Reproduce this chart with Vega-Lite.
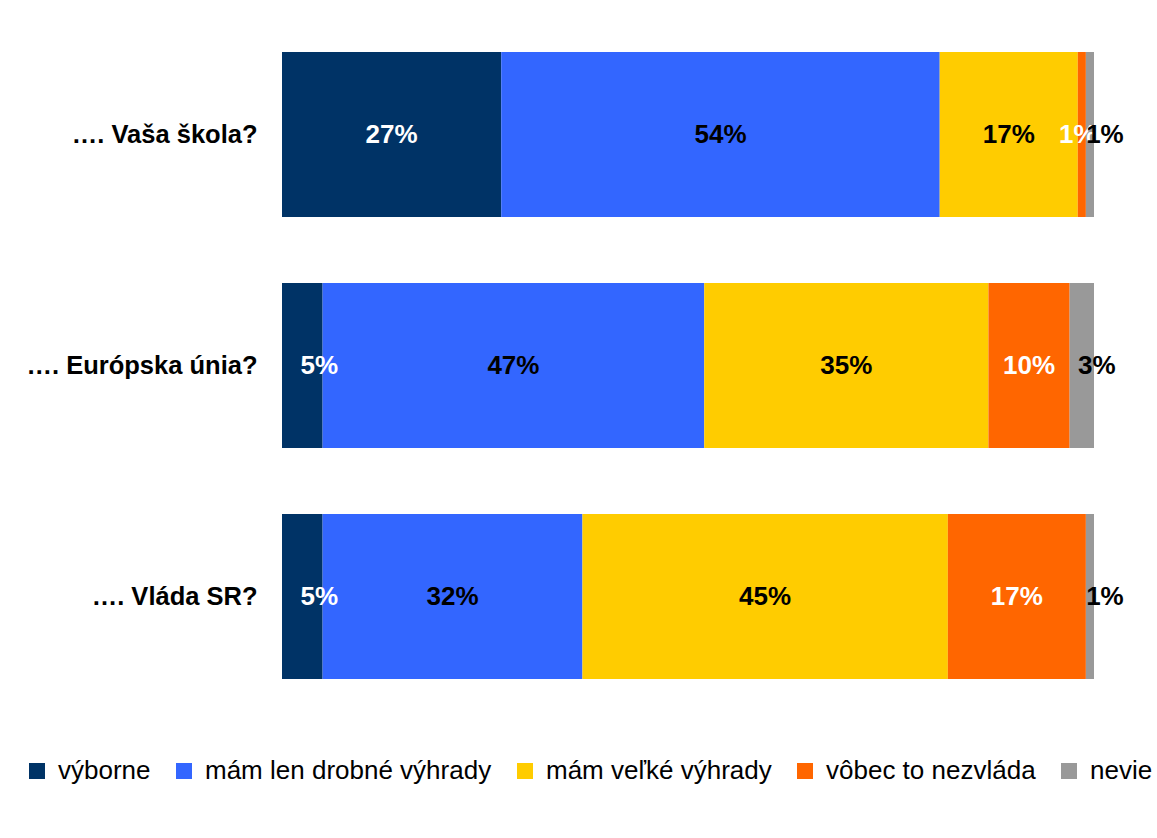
{
  "$schema": "https://vega.github.io/schema/vega-lite/v6.json",
  "width": 812,
  "height": 693,
  "autosize": {"type": "none"},
  "padding": {"left": 282, "top": 19, "right": 63, "bottom": 126},
  "background": "white",
  "config": {"view": {"stroke": null}, "font": "Liberation Sans"},
  "data": {
    "values": [
      {"q": "…. Vaša škola?", "c": "výborne", "v": 27, "lab": "27%", "o": 1},
      {"q": "…. Vaša škola?", "c": "mám len drobné výhrady", "v": 54, "lab": "54%", "o": 2},
      {"q": "…. Vaša škola?", "c": "mám veľké výhrady", "v": 17, "lab": "17%", "o": 3},
      {"q": "…. Vaša škola?", "c": "vôbec to nezvláda", "v": 1, "lab": "1%", "o": 4},
      {"q": "…. Vaša škola?", "c": "nevie", "v": 1, "lab": "1%", "o": 5},
      {"q": "…. Európska únia?", "c": "výborne", "v": 5, "lab": "5%", "o": 1},
      {"q": "…. Európska únia?", "c": "mám len drobné výhrady", "v": 47, "lab": "47%", "o": 2},
      {"q": "…. Európska únia?", "c": "mám veľké výhrady", "v": 35, "lab": "35%", "o": 3},
      {"q": "…. Európska únia?", "c": "vôbec to nezvláda", "v": 10, "lab": "10%", "o": 4},
      {"q": "…. Európska únia?", "c": "nevie", "v": 3, "lab": "3%", "o": 5},
      {"q": "…. Vláda SR?", "c": "výborne", "v": 5, "lab": "5%", "o": 1},
      {"q": "…. Vláda SR?", "c": "mám len drobné výhrady", "v": 32, "lab": "32%", "o": 2},
      {"q": "…. Vláda SR?", "c": "mám veľké výhrady", "v": 45, "lab": "45%", "o": 3},
      {"q": "…. Vláda SR?", "c": "vôbec to nezvláda", "v": 17, "lab": "17%", "o": 4},
      {"q": "…. Vláda SR?", "c": "nevie", "v": 1, "lab": "1%", "o": 5}
    ]
  },
  "encoding": {
    "y": {
      "field": "q",
      "type": "nominal",
      "sort": ["…. Vaša škola?", "…. Európska únia?", "…. Vláda SR?"],
      "scale": {"paddingInner": 0.286, "paddingOuter": 0.143},
      "axis": {
        "title": null,
        "ticks": false,
        "domain": false,
        "labelFontSize": 25.5,
        "labelFontWeight": "bold",
        "labelColor": "black",
        "labelPadding": 25,
        "labelLimit": 400,
        "labelFont": "Liberation Sans"
      }
    },
    "x": {
      "field": "v",
      "type": "quantitative",
      "stack": "zero",
      "scale": {"domain": [0, 100]},
      "axis": null
    },
    "order": {"field": "o", "type": "quantitative"}
  },
  "layer": [
    {
      "mark": {"type": "bar"},
      "encoding": {
        "color": {
          "field": "c",
          "type": "nominal",
          "scale": {
            "domain": ["výborne", "mám len drobné výhrady", "mám veľké výhrady", "vôbec to nezvláda", "nevie"],
            "range": ["#003366", "#3366FF", "#FFCC00", "#FF6600", "#999999"]
          },
          "legend": {
            "title": null,
            "orient": "none",
            "direction": "horizontal",
            "columns": 5,
            "legendX": -258,
            "legendY": 739,
            "symbolType": "square",
            "symbolSize": 256,
            "symbolStrokeWidth": 0,
            "symbolOpacity": 1,
            "labelFontSize": 26,
            "labelColor": "black",
            "labelOffset": 8,
            "columnPadding": 20,
            "labelLimit": 400
          }
        }
      }
    },
    {
      "mark": {"type": "text", "fontSize": 26, "fontWeight": "bold", "baseline": "middle", "align": "center"},
      "encoding": {
        "x": {"field": "v", "type": "quantitative", "stack": "zero", "bandPosition": 0.5},
        "text": {"field": "lab", "type": "nominal"},
        "opacity": {
          "condition": {"test": "datum.c !== 'nevie' && !(datum.c === 'vôbec to nezvláda' && datum.q === '…. Vaša škola?') && !(datum.c === 'výborne' && datum.q !== '…. Vaša škola?')", "value": 1},
          "value": 0
        },
        "color": {
          "condition": {"test": "datum.c === 'výborne' || datum.c === 'vôbec to nezvláda'", "value": "white"},
          "value": "black"
        }
      }
    },
    {
      "mark": {"type": "text", "fontSize": 26, "fontWeight": "bold", "baseline": "middle", "align": "center", "dx": 17, "color": "white"},
      "encoding": {
        "x": {"field": "v", "type": "quantitative", "stack": "zero", "bandPosition": 0.5},
        "text": {"field": "lab", "type": "nominal"},
        "opacity": {
          "condition": {"test": "datum.c === 'výborne' && datum.q !== '…. Vaša škola?'", "value": 1},
          "value": 0
        }
      }
    },
    {
      "mark": {"type": "text", "fontSize": 26, "fontWeight": "bold", "baseline": "middle", "align": "center", "dx": -4, "color": "white"},
      "encoding": {
        "x": {"field": "v", "type": "quantitative", "stack": "zero", "bandPosition": 0.5},
        "text": {"field": "lab", "type": "nominal"},
        "opacity": {
          "condition": {"test": "datum.c === 'vôbec to nezvláda' && datum.q === '…. Vaša škola?'", "value": 1},
          "value": 0
        }
      }
    },
    {
      "mark": {"type": "text", "fontSize": 26, "fontWeight": "bold", "baseline": "middle", "align": "center", "dx": 15, "color": "black"},
      "encoding": {
        "x": {"field": "v", "type": "quantitative", "stack": "zero", "bandPosition": 0.5},
        "text": {"field": "lab", "type": "nominal"},
        "opacity": {
          "condition": {"test": "datum.c === 'nevie'", "value": 1},
          "value": 0
        }
      }
    }
  ]
}
